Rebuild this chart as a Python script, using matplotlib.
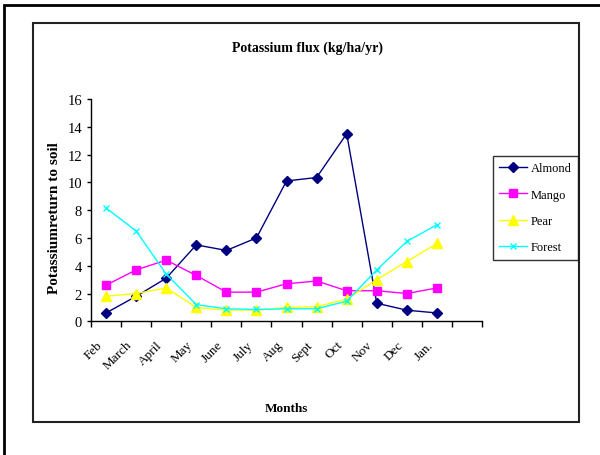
import matplotlib
matplotlib.use("Agg")
import matplotlib.pyplot as plt
from matplotlib.patches import Rectangle
from matplotlib.transforms import ScaledTranslation

plt.rcParams['font.family'] = 'Liberation Serif'

months = ['Feb', 'March', 'April', 'May', 'June', 'July', 'Aug', 'Sept',
          'Oct', 'Nov', 'Dec', 'Jan.']
almond = [0.6, 1.8, 3.1, 5.5, 5.1, 6.0, 10.1, 10.35, 13.5, 1.3, 0.8, 0.6]
mango = [2.6, 3.7, 4.4, 3.3, 2.1, 2.1, 2.7, 2.9, 2.2, 2.2, 2.0, 2.4]
pear = [1.8, 2.0, 2.4, 1.0, 0.8, 0.8, 1.0, 1.05, 1.6, 3.0, 4.3, 5.6]
forest = [8.15, 6.5, 3.4, 1.2, 0.9, 0.85, 0.9, 0.9, 1.45, 3.7, 5.75, 6.95]

fig = plt.figure(figsize=(6, 4.56), dpi=100)
ax = fig.add_axes([0.1517, 0.2932, 0.6517, 0.4875])

x = list(range(len(months)))
ax.plot(x, almond, color='#000080', marker='D', markersize=5, lw=1, label='Almond')
ax.plot(x, mango, color='#FF00FF', marker='s', markersize=6, lw=1, label='Mango')
ax.plot(x, pear, color='#FFFF00', marker='^', markersize=7, lw=1, label='Pear')
ax.plot(x, forest, color='#00FFFF', marker='x', markersize=5, mew=1, lw=1, label='Forest')

# category axis: ticks between categories, one spare slot at the end
ax.set_xlim(-0.5, len(months) + 0.5)
ax.set_xticks([i - 0.5 for i in range(len(months) + 2)])
ax.set_xticklabels([])
ax.set_xticks(x, minor=True)
ax.set_xticklabels(months, minor=True, rotation=45, ha='right', va='top',
                   rotation_mode='anchor', fontsize=9.5)
ax.tick_params(axis='x', which='minor', length=0, pad=6)
ax.tick_params(axis='x', which='major', length=4, width=1)
shift = ScaledTranslation(-0.10, -0.09, fig.dpi_scale_trans)
for lab in ax.get_xticklabels(minor=True):
    lab.set_transform(lab.get_transform() + shift)

ax.set_ylim(0, 16)
ax.set_yticks(range(0, 17, 2))
ax.tick_params(axis='y', length=3, width=1, labelsize=10.5)

for s in ['top', 'right']:
    ax.spines[s].set_visible(False)
for s in ['left', 'bottom']:
    ax.spines[s].set_linewidth(1)

ax.set_xlabel('Months', fontweight='bold', fontsize=9.5, labelpad=22)
ax.set_ylabel('Potassiumreturn to soil', fontweight='bold', fontsize=11)
ax.yaxis.set_label_coords(-0.077, 0.469)
fig.text(0.513, 0.895, 'Potassium flux (kg/ha/yr)', ha='center', va='center',
         fontweight='bold', fontsize=10)

leg = fig.legend(loc='upper left', bbox_to_anchor=(0.8217, 0.6557), fontsize=9,
                 frameon=True, fancybox=False, edgecolor='black',
                 handlelength=2.2, labelspacing=1.15, borderpad=0.5,
                 handletextpad=0.3, borderaxespad=0)
leg.get_frame().set_linewidth(1)

# chart frames
fig.add_artist(Rectangle((0.055, 0.0724), 0.91, 0.8750, transform=fig.transFigure,
                         fill=False, edgecolor='#222222', lw=1.5))
fig.add_artist(Rectangle((0.0067, -0.1), 1.2, 1.1 - 6 / 456, transform=fig.transFigure,
                         fill=False, edgecolor='black', lw=2))

fig.savefig('out.png', dpi=100)
